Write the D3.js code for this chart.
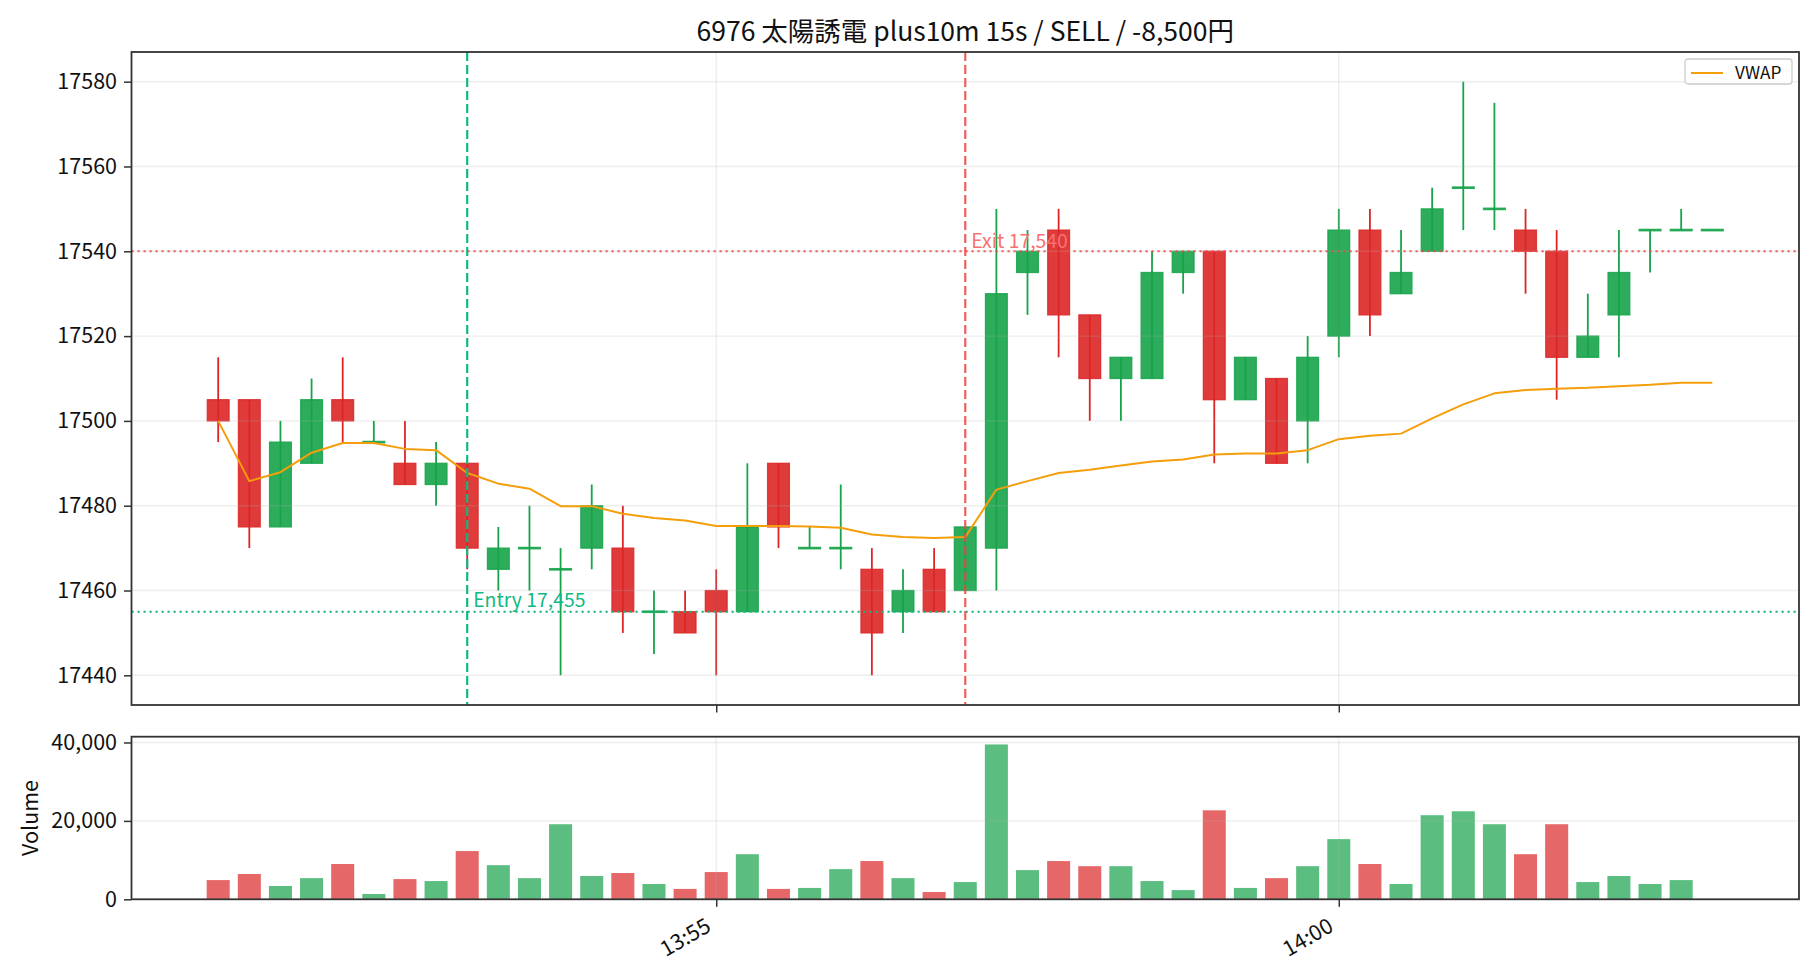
<!DOCTYPE html>
<html>
<head>
<meta charset="utf-8">
<script src="https://cdn.jsdelivr.net/npm/d3@7"></script>
<style>
body { margin: 0; background: #fff; }
svg text { font-family: "Noto Sans CJK JP", "DejaVu Sans", sans-serif; fill: #111; }
</style>
</head>
<body>
<svg class="chart" width="1820" height="980"></svg>
<script>
// 15s candles, 13:51 - 14:03
const times = [
	"13:51:00","13:51:15","13:51:30","13:51:45","13:52:00","13:52:15","13:52:30","13:52:45",
	"13:53:00","13:53:15","13:53:30","13:53:45","13:54:00","13:54:15","13:54:30","13:54:45",
	"13:55:00","13:55:15","13:55:30","13:55:45","13:56:00","13:56:15","13:56:30","13:56:45",
	"13:57:00","13:57:15","13:57:30","13:57:45","13:58:00","13:58:15","13:58:30","13:58:45",
	"13:59:00","13:59:15","13:59:30","13:59:45","14:00:00","14:00:15","14:00:30","14:00:45",
	"14:01:00","14:01:15","14:01:30","14:01:45","14:02:00","14:02:15","14:02:30","14:02:45",
	"14:03:00"
];
const open = [
	17505,17505,17475,17490,17505,17495,17490,17485,17490,17465,17470,17465,17470,17470,17455,17455,
	17460,17455,17490,17470,17470,17465,17455,17465,17460,17470,17535,17545,17525,17510,17510,17535,
	17540,17505,17510,17500,17520,17545,17530,17540,17555,17550,17545,17540,17515,17525,17545,17545,
	17545
];
const high = [
	17515,17505,17500,17510,17515,17500,17500,17495,17490,17475,17480,17470,17485,17480,17460,17460,
	17465,17490,17490,17475,17485,17470,17465,17470,17475,17550,17545,17550,17525,17515,17540,17540,
	17540,17515,17510,17520,17550,17550,17545,17555,17580,17575,17550,17545,17530,17545,17545,17550,
	17545
];
const low = [
	17495,17470,17475,17490,17495,17495,17485,17480,17465,17460,17460,17440,17465,17450,17445,17450,
	17440,17455,17470,17470,17465,17440,17450,17455,17460,17460,17525,17515,17500,17500,17510,17530,
	17490,17505,17490,17490,17515,17520,17530,17540,17545,17545,17530,17505,17515,17515,17535,17545,
	17545
];
const close = [
	17500,17475,17495,17505,17500,17495,17485,17490,17470,17470,17470,17465,17480,17455,17455,17450,
	17455,17475,17475,17470,17470,17450,17460,17455,17475,17530,17540,17525,17510,17515,17535,17540,
	17505,17515,17490,17515,17545,17525,17535,17550,17555,17550,17540,17515,17520,17535,17545,17545,
	17545
];
const volume = [
	4900,6450,3400,5400,9000,1350,5150,4650,12300,8700,5400,19150,5950,6700,3900,2650,
	6950,11500,2650,2900,7700,9750,5400,1850,4400,39500,7450,9750,8450,8450,4650,2350,
	22700,2900,5400,8450,15350,9000,3900,21450,22450,19150,11500,19150,4400,5950,3900,4900,
	0
];
const vwap = [
	17500.0,17485.8,17487.9,17492.5,17494.8,17494.8,17493.4,17493.1,17487.7,17485.2,17484.0,17479.9,
	17479.9,17478.1,17477.1,17476.5,17475.2,17475.2,17475.2,17475.1,17474.8,17473.2,17472.6,17472.4,
	17472.6,17483.8,17485.8,17487.7,17488.5,17489.5,17490.4,17490.9,17492.1,17492.3,17492.3,17493.1,
	17495.7,17496.5,17497.0,17500.6,17503.9,17506.5,17507.3,17507.6,17507.8,17508.2,17508.5,17509.0,
	17509.0
];
const priceTicks = [17440, 17460, 17480, 17500, 17520, 17540, 17560, 17580];
const volumeTicks = [0, 20000, 40000];
const timeTicks = ["13:55:00", "14:00:00"];
const entryTime = "13:53:00", entryPrice = 17455;
const exitTime = "13:57:00", exitPrice = 17540;
const title = "6976 太陽誘電 plus10m 15s / SELL / -8,500円";

const UP = "#16a34a", DOWN = "#dc2626", VWAP_COLOR = "#f59e0b";
const ENTRY_COLOR = "#10b981", EXIT_COLOR = "#ef4444", EXIT_TEXT = "#f87171";

var parse = d3.timeParse("%H:%M:%S");
var svg = d3.select("svg.chart");
var main = {left: 131.5, right: 1799, top: 52, bottom: 705};
var vol = {top: 736.7, bottom: 899.3};

var t = times.map(parse);
var step = 15000, bodyW = step * 0.7, volW = step * 0.74;
var span = t[t.length - 1] - t[0];
var pad = 0.05 * (span + bodyW) + bodyW / 2;

var x = d3.scaleTime()
	.domain([new Date(+t[0] - pad), new Date(+t[t.length - 1] + pad)])
	.range([main.left, main.right]);
var lo = d3.min(low), hi = d3.max(high), m = (hi - lo) * 0.05;
var y = d3.scaleLinear().domain([lo - m, hi + m]).range([main.bottom, main.top]);
var yv = d3.scaleLinear().domain([0, d3.max(volume) * 1.05]).range([vol.bottom, vol.top]);

var bw = x(new Date(+t[0] + bodyW)) - x(t[0]);
var vw = x(new Date(+t[0] + volW)) - x(t[0]);
var idx = d3.range(t.length);
var color = i => close[i] >= open[i] ? UP : DOWN;

svg.append("rect").attr("width", 1820).attr("height", 980).attr("fill", "white");

// ---- price panel
var g = svg.append("g");
var candles = g.append("g");
candles.selectAll("line.wick").data(idx).join("line")
	.attr("x1", i => x(t[i])).attr("x2", i => x(t[i]))
	.attr("y1", i => y(high[i])).attr("y2", i => y(low[i]))
	.attr("stroke", color).attr("stroke-width", 1.8);
// doji bodies get a small height so they read as a thick bar
candles.selectAll("rect.body").data(idx).join("rect")
	.attr("x", i => x(t[i]) - bw / 2)
	.attr("y", i => open[i] === close[i] ? y(close[i]) - 0.7 : y(Math.max(open[i], close[i])))
	.attr("width", bw)
	.attr("height", i => Math.max(1.4, Math.abs(y(open[i]) - y(close[i]))))
	.attr("fill", color).attr("fill-opacity", 0.9)
	.attr("stroke", color).attr("stroke-opacity", 0.85).attr("stroke-width", 1.3);

// grid
var grid = g.append("g").attr("stroke", "#b0b0b0").attr("stroke-opacity", 0.22).attr("stroke-width", 1.4);
grid.selectAll("line.h").data(priceTicks).join("line")
	.attr("x1", main.left).attr("x2", main.right)
	.attr("y1", d => y(d)).attr("y2", d => y(d));
grid.selectAll("line.v").data(timeTicks).join("line")
	.attr("x1", d => x(parse(d))).attr("x2", d => x(parse(d)))
	.attr("y1", main.top).attr("y2", main.bottom);

var line = d3.line()
	.x(i => x(t[i]))
	.y(i => y(vwap[i]));
g.append("path")
	.datum(idx)
	.attr("fill", "none")
	.attr("stroke", VWAP_COLOR)
	.attr("stroke-width", 2)
	.attr("stroke-linejoin", "round")
	.attr("d", line);

// entry / exit markers
var ex = x(parse(entryTime)), xx = x(parse(exitTime));
g.append("line").attr("x1", main.left).attr("x2", main.right)
	.attr("y1", y(entryPrice)).attr("y2", y(entryPrice))
	.attr("stroke", ENTRY_COLOR).attr("stroke-width", 2).style("stroke-dasharray", "2.2, 3.8");
g.append("line").attr("x1", ex).attr("x2", ex).attr("y1", main.top).attr("y2", main.bottom)
	.attr("stroke", ENTRY_COLOR).attr("stroke-width", 2.2).style("stroke-dasharray", "9, 4");
g.append("line").attr("x1", main.left).attr("x2", main.right)
	.attr("y1", y(exitPrice)).attr("y2", y(exitPrice))
	.attr("stroke", EXIT_COLOR).attr("stroke-opacity", 0.85).attr("stroke-width", 2).style("stroke-dasharray", "2.2, 3.8");
g.append("line").attr("x1", xx).attr("x2", xx).attr("y1", main.top).attr("y2", main.bottom)
	.attr("stroke", EXIT_COLOR).attr("stroke-opacity", 0.85).attr("stroke-width", 2.2).style("stroke-dasharray", "9, 4");
g.append("text").attr("x", ex + 6).attr("y", y(entryPrice) - 4.5)
	.style("font-size", "19.4px").style("fill", ENTRY_COLOR)
	.text("Entry " + d3.format(",")(entryPrice));
g.append("text").attr("x", xx + 6).attr("y", y(exitPrice) - 3.5)
	.style("font-size", "19.4px").style("fill", EXIT_TEXT)
	.text("Exit " + d3.format(",")(exitPrice));

// axes
g.append("g").attr("transform", "translate(" + main.left + ",0)")
	.call(d3.axisLeft(y).tickValues(priceTicks).tickFormat(d3.format("d")).tickSize(7.5).tickPadding(7));
g.append("g").attr("transform", "translate(0," + main.bottom + ")")
	.call(d3.axisBottom(x).tickValues(timeTicks.map(parse)).tickFormat("").tickSize(7.5));
g.append("rect")
	.attr("x", main.left).attr("y", main.top)
	.attr("width", main.right - main.left).attr("height", main.bottom - main.top)
	.attr("fill", "none").attr("stroke", "#333").attr("stroke-width", 1.8);

// legend
var lg = g.append("g").attr("transform", "translate(1685,59)");
lg.append("rect").attr("width", 107).attr("height", 25).attr("rx", 3)
	.attr("fill", "white").attr("fill-opacity", 0.8)
	.attr("stroke", "#cccccc").attr("stroke-width", 1.3);
lg.append("line").attr("x1", 6).attr("x2", 38).attr("y1", 14).attr("y2", 14)
	.attr("stroke", VWAP_COLOR).attr("stroke-width", 2);
lg.append("text").attr("x", 50).attr("y", 19.5).style("font-size", "17.2px").text("VWAP");

// ---- volume panel
var gv = svg.append("g");
gv.selectAll("rect").data(idx).join("rect")
	.attr("x", i => x(t[i]) - vw / 2)
	.attr("y", i => yv(volume[i]))
	.attr("width", vw)
	.attr("height", i => vol.bottom - yv(volume[i]))
	.attr("fill", color).attr("fill-opacity", 0.7);
var vgrid = gv.append("g").attr("stroke", "#b0b0b0").attr("stroke-opacity", 0.22).attr("stroke-width", 1.4);
vgrid.selectAll("line.h").data(volumeTicks).join("line")
	.attr("x1", main.left).attr("x2", main.right)
	.attr("y1", d => yv(d)).attr("y2", d => yv(d));
vgrid.selectAll("line.v").data(timeTicks).join("line")
	.attr("x1", d => x(parse(d))).attr("x2", d => x(parse(d)))
	.attr("y1", vol.top).attr("y2", vol.bottom);

gv.append("g").attr("transform", "translate(" + main.left + ",0)")
	.call(d3.axisLeft(yv).tickValues(volumeTicks).tickFormat(d3.format(",")).tickSize(7.5).tickPadding(7));
var xa = gv.append("g").attr("transform", "translate(0," + vol.bottom + ")")
	.call(d3.axisBottom(x).tickValues(timeTicks.map(parse)).tickFormat(d3.timeFormat("%H:%M")).tickSize(7.5));
xa.selectAll("text")
	.attr("text-anchor", "end")
	.attr("x", -4.5).attr("y", 31).attr("dy", 0)
	.attr("transform", "rotate(-30,-4.5,31)");
gv.append("rect")
	.attr("x", main.left).attr("y", vol.top)
	.attr("width", main.right - main.left).attr("height", vol.bottom - vol.top)
	.attr("fill", "none").attr("stroke", "#333").attr("stroke-width", 1.8);

svg.append("text")
	.attr("transform", "translate(38," + ((vol.top + vol.bottom) / 2) + ") rotate(-90)")
	.attr("text-anchor", "middle")
	.style("font-size", "21.5px")
	.text("Volume");

svg.append("text")
	.attr("x", (main.left + main.right) / 2).attr("y", 41)
	.attr("text-anchor", "middle")
	.style("font-size", "26.5px")
	.text(title);

// common axis styling
svg.selectAll(".domain").remove();
svg.selectAll(".tick line").attr("stroke", "#333").attr("stroke-width", 1.5);
svg.selectAll(".tick text").style("font-size", "21.5px").attr("fill", "#111").attr("font-family", null);
</script>
</body>
</html>
